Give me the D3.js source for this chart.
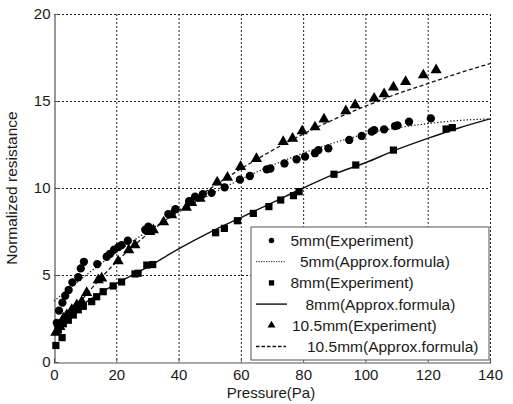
<!DOCTYPE html>
<html>
<head>
<meta charset="utf-8">
<script src="https://cdn.jsdelivr.net/npm/d3@7"></script>
<style>
  html, body { margin: 0; padding: 0; background: #fff; }
  svg { display: block; font-family: "Liberation Sans", Arial, Helvetica, sans-serif; }
</style>
</head>
<body>
<svg id="chart" width="513" height="404"></svg>
<script>
// Pressure (Pa) vs normalized resistance, three sensor sizes
const xTicks = [0, 20, 40, 60, 80, 100, 120, 140];
const yTicks = [0, 5, 10, 15, 20];

// 5 mm — measured points [pressure, resistance]
const exp5mm = [
  [0.9, 2.25], [1.6, 2.95], [2.7, 3.41], [3.6, 3.81], [4.7, 4.14], [5.9, 4.58],
  [7.8, 4.87], [8.6, 5.38], [9.6, 5.76], [13.9, 5.63], [16.9, 6.05], [18.0, 6.22],
  [19.3, 6.46], [20.7, 6.6], [21.7, 6.72], [23.7, 6.97], [29.3, 7.6], [30.3, 7.78],
  [36.7, 8.5], [39.0, 8.78], [43.4, 9.25], [45.3, 9.5], [47.8, 9.65], [50.6, 9.72],
  [54.8, 10.04], [59.7, 10.48], [62.9, 10.69], [68.3, 11.07], [69.5, 11.12], [74.0, 11.41],
  [77.9, 11.65], [80.6, 11.8], [83.8, 12.0], [84.9, 12.18], [88.1, 12.28], [94.8, 12.76],
  [98.8, 12.99], [102.0, 13.24], [102.8, 13.33], [106.0, 13.37], [109.5, 13.56],
  [110.3, 13.6], [114.0, 13.81], [121.0, 14.0]
];
// 5 mm — approximation formula, sampled every 10 Pa
const fit5mmX = [0, 10, 20, 30, 40, 50, 60, 70, 80, 90, 100, 110, 120, 130, 140];
const fit5mmY = [3.5, 4.95, 6.3, 7.5, 8.6, 9.6, 10.5, 11.3, 12.0, 12.6, 13.1, 13.45, 13.7, 13.88, 13.97];

// 8 mm — measured points
const exp8mm = [
  [0.6, 0.95], [2.6, 1.4], [1.4, 1.84], [3.0, 2.2], [4.6, 2.4], [6.2, 2.7],
  [7.8, 3.0], [9.4, 3.2], [12.1, 3.47], [13.7, 3.75], [15.8, 4.04], [19.0, 4.37],
  [21.7, 4.6], [26.0, 5.06], [27.0, 5.1], [29.8, 5.57], [31.7, 5.6],
  [51.9, 7.43], [54.7, 7.68], [58.9, 8.12], [64.0, 8.54], [69.0, 8.93], [72.8, 9.31],
  [76.9, 9.56], [78.7, 9.79], [89.9, 10.79], [96.9, 11.32], [109.0, 12.18],
  [125.9, 13.39], [127.9, 13.47]
];
const fit8mmX = [0, 10, 20, 30, 40, 50, 60, 70, 80, 90, 100, 110, 120, 130, 140];
const fit8mmY = [2.0, 3.4, 4.5, 5.45, 6.5, 7.45, 8.3, 9.15, 10.0, 10.8, 11.45, 12.2, 12.85, 13.45, 13.97];

// 10.5 mm — measured points
const exp105mm = [
  [0.6, 1.7], [1.9, 2.03], [3.0, 2.5], [4.1, 2.7], [5.7, 3.0], [7.3, 3.28],
  [8.9, 3.47], [10.5, 3.98], [14.2, 4.71], [15.3, 4.81], [20.6, 5.8], [24.0, 6.44],
  [26.0, 6.72], [30.8, 7.49], [31.9, 7.59], [35.2, 8.04], [37.8, 8.45], [42.5, 8.88],
  [44.2, 9.15], [46.9, 9.4], [52.4, 10.33], [55.7, 10.6], [59.9, 11.22], [65.0, 11.68],
  [73.6, 12.66], [76.6, 12.85], [79.7, 13.28], [83.8, 13.5], [86.7, 13.95], [93.7, 14.43],
  [96.7, 14.77], [102.8, 15.15], [106.0, 15.4], [109.0, 15.79], [112.9, 16.11],
  [118.6, 16.49], [122.7, 16.78]
];
const fit105mmX = [0, 10, 20, 30, 40, 50, 60, 70, 80, 90, 100, 110, 120, 130, 140];
const fit105mmY = [1.6, 3.8, 5.75, 7.35, 8.7, 9.95, 11.1, 12.15, 13.1, 13.95, 14.7, 15.4, 16.0, 16.6, 17.15];

const legendLabels = [
  "5mm(Experiment)", "5mm(Approx.formula)",
  "8mm(Experiment)", "8mm(Approx.formula)",
  "10.5mm(Experiment)", "10.5mm(Approx.formula)"
];

const svg = d3.select("#chart");
const plotLeft = 54, plotRight = 490, plotTop = 14, plotBottom = 362;
const x = d3.scaleLinear().domain([0, 140]).range([plotLeft, plotRight]);
const y = d3.scaleLinear().domain([0, 20]).range([plotBottom, plotTop]);

// grid (dotted), including top and right borders
const grid = svg.append("g").attr("stroke", "#222").attr("stroke-width", 1)
  .attr("stroke-dasharray", "2,2").attr("fill", "none");
xTicks.filter(d => d > 0).forEach(d => {
  grid.append("line").attr("x1", x(d) + 0.5).attr("x2", x(d) + 0.5)
    .attr("y1", plotTop).attr("y2", plotBottom);
});
yTicks.filter(d => d > 0).forEach(d => {
  grid.append("line").attr("x1", plotLeft).attr("x2", plotRight)
    .attr("y1", y(d) + 0.5).attr("y2", y(d) + 0.5);
});

// axes
const xAxis = svg.append("g").attr("transform", `translate(0,${plotBottom + 0.5})`)
  .call(d3.axisBottom(x).tickValues(xTicks).tickSize(-4).tickPadding(7));
const yAxis = svg.append("g").attr("transform", `translate(${plotLeft + 0.5},0)`)
  .call(d3.axisLeft(y).tickValues(yTicks).tickSize(-4).tickPadding(4));
[xAxis, yAxis].forEach(g => {
  g.select(".domain").attr("stroke", "#555").attr("stroke-width", 1.2);
  g.selectAll(".tick line").attr("stroke", "#555");
  g.selectAll(".tick text").attr("fill", "#1a1a1a").attr("font-size", 15)
    .attr("font-family", "Liberation Sans, Arial, sans-serif");
});

svg.append("text").attr("x", 271).attr("y", 398).attr("text-anchor", "middle")
  .attr("font-size", 15).attr("fill", "#1a1a1a").text("Pressure(Pa)");
svg.append("text").attr("transform", "translate(17,188) rotate(-90)")
  .attr("text-anchor", "middle").attr("font-size", 15.5).attr("fill", "#1a1a1a")
  .text("Normalized resistance");

// fitted curves
const line = d3.line().x(d => x(d[0])).y(d => y(d[1])).curve(d3.curveMonotoneX);
const zip = (xs, ys) => xs.map((v, i) => [v, ys[i]]);
const plot = svg.append("g");
plot.append("path").datum(zip(fit5mmX, fit5mmY)).attr("d", line)
  .attr("fill", "none").attr("stroke", "#111").attr("stroke-width", 1.2).attr("stroke-dasharray", "1.3,2");
plot.append("path").datum(zip(fit8mmX, fit8mmY)).attr("d", line)
  .attr("fill", "none").attr("stroke", "#111").attr("stroke-width", 1.4);
plot.append("path").datum(zip(fit105mmX, fit105mmY)).attr("d", line)
  .attr("fill", "none").attr("stroke", "#111").attr("stroke-width", 1.3).attr("stroke-dasharray", "4,2.5");

// measured markers
const symCircle = d3.symbol().type(d3.symbolCircle).size(54);
const symSquare = d3.symbol().type(d3.symbolSquare).size(52);
const symTri = d3.symbol().type(d3.symbolTriangle).size(54);
function markers(data, sym) {
  plot.append("g").selectAll("path").data(data).join("path")
    .attr("d", sym).attr("fill", "#000")
    .attr("transform", d => `translate(${x(d[0])},${y(d[1])})`);
}
markers(exp5mm, symCircle);
markers(exp8mm, symSquare);
markers(exp105mm, symTri);

// legend
const lg = svg.append("g");
lg.append("rect").attr("x", 251).attr("y", 227).attr("width", 238).attr("height", 133)
  .attr("fill", "#fff").attr("stroke", "#555").attr("stroke-width", 1);
const rowY = [240.5, 261.7, 282.9, 304.1, 325.3, 346.5];
const textX = [290.5, 300, 290.5, 305.5, 292, 307];
const legendKinds = ["circle", "dot", "square", "solid", "tri", "dash"];
legendKinds.forEach((k, i) => {
  const cy = rowY[i];
  if (k === "circle") lg.append("path").attr("d", d3.symbol().type(d3.symbolCircle).size(24)).attr("transform", `translate(271.5,${cy})`);
  if (k === "square") lg.append("path").attr("d", d3.symbol().type(d3.symbolSquare).size(28)).attr("transform", `translate(271.5,${cy})`);
  if (k === "tri") lg.append("path").attr("d", d3.symbol().type(d3.symbolTriangle).size(28)).attr("transform", `translate(271.5,${cy})`);
  if (k === "dot") lg.append("line").attr("x1", 256).attr("x2", 286).attr("y1", cy).attr("y2", cy)
    .attr("stroke", "#111").attr("stroke-width", 1).attr("stroke-dasharray", "1.2,1.3");
  if (k === "solid") lg.append("line").attr("x1", 256).attr("x2", 287).attr("y1", cy).attr("y2", cy)
    .attr("stroke", "#111").attr("stroke-width", 1.4);
  if (k === "dash") lg.append("line").attr("x1", 256).attr("x2", 286).attr("y1", cy).attr("y2", cy)
    .attr("stroke", "#111").attr("stroke-width", 1.3).attr("stroke-dasharray", "3.5,2");
  lg.append("text").attr("x", textX[i]).attr("y", cy).attr("dy", "0.36em")
    .attr("font-size", 15.5).attr("fill", "#1a1a1a").text(legendLabels[i]);
});
</script>
</body>
</html>
